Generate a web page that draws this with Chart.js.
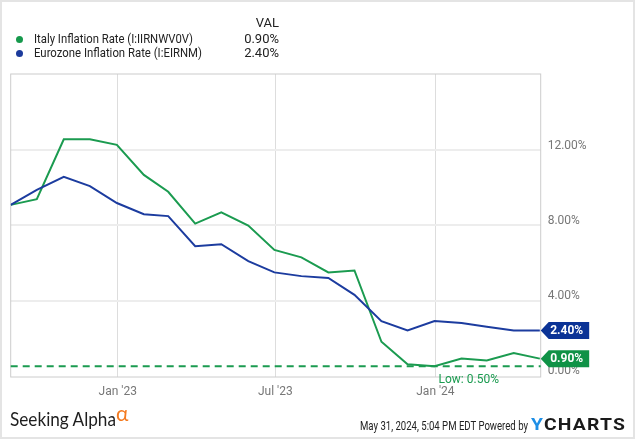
<!DOCTYPE html>
<html>
<head>
<meta charset="utf-8">
<script src="https://cdn.jsdelivr.net/npm/chart.js@4.4.1/dist/chart.umd.min.js"></script>
<style>
    html, body { margin: 0; padding: 0; background: #fff; }
    #wrap { position: relative; width: 635px; height: 439px; overflow: hidden; font-family: Roboto, sans-serif; }
    #frame { position: absolute; left: 0; top: 0; width: 631px; height: 435px; border: 2px solid #e4e4e4; pointer-events: none; }
    #chart { position: absolute; left: 0; top: 0; }
    .txt { position: absolute; white-space: nowrap; color: #222; transform-origin: left top; }
    .dot { position: absolute; width: 7px; height: 7px; border-radius: 50%; }
    .leg { font-size: 13px; line-height: 14px; }
    .val { font-size: 13px; line-height: 14px; text-align: right; width: 60px; }
</style>
</head>
<body>
<div id="wrap">
    <canvas id="chart" width="635" height="439"></canvas>

    <div class="txt val" style="left:219px; top:16px;">VAL</div>
    <div class="dot" style="left:16px; top:36px; background:#16994c;"></div>
    <div class="txt leg" data-w="159" style="left:34px; top:32px;">Italy Inflation Rate (I:IIRNWV0V)</div>
    <div class="txt val" style="left:219px; top:32px;">0.90%</div>
    <div class="dot" style="left:16px; top:50px; background:#1c3b9c;"></div>
    <div class="txt leg" data-w="168" style="left:34px; top:46px;">Eurozone Inflation Rate (I:EIRNM)</div>
    <div class="txt val" style="left:219px; top:46px;">2.40%</div>

    <div class="txt" data-w="106" style="left:10px; top:407px; font-family:Lato, sans-serif; font-size:19px; color:#1e1e1e;">Seeking Alpha</div>
    <div class="txt" style="left:116px; top:400px; font-family:Lato, sans-serif; font-size:21px; color:#f47b20;">&alpha;</div>
    <div class="txt" data-w="168" style="left:360px; top:418px; font-size:13px; color:#222;">May 31, 2024, 5:04 PM EDT Powered by</div>
    <div class="txt" data-w="95" style="left:531px; top:415px; font-size:16px; font-weight:bold; letter-spacing:1px; color:#1a1a1a;"><span style="color:#1e8fe6;">Y</span>CHARTS</div>

    <div id="frame"></div>
</div>

<script>
// monthly readings (plotted at month end)
const months = ['2022-08', '2022-09', '2022-10', '2022-11', '2022-12',
    '2023-01', '2023-02', '2023-03', '2023-04', '2023-05', '2023-06',
    '2023-07', '2023-08', '2023-09', '2023-10', '2023-11', '2023-12',
    '2024-01', '2024-02', '2024-03', '2024-04'];
const italy = [9.1, 9.4, 12.6, 12.6, 12.3, 10.7, 9.8, 8.1, 8.7, 8.0, 6.7,
    6.3, 5.5, 5.6, 1.8, 0.6, 0.5, 0.9, 0.8, 1.2, 0.9];
const eurozone = [9.1, 9.9, 10.6, 10.1, 9.2, 8.6, 8.5, 6.9, 7.0, 6.1, 5.5,
    5.3, 5.2, 4.3, 2.9, 2.4, 2.9, 2.8, 2.6, 2.4, 2.4];

const xTickDates = ['2023-01-01', '2023-07-01', '2024-01-01'];
const xTickLabels = ["Jan '23", "Jul '23", "Jan '24"];
const yTickValues = [0, 4, 8, 12];

const GREEN = '#1b9b50';
const BLUE = '#1c3c9f';
const GREEN_TAG = '#0f9246';
const BLUE_TAG = '#0b3396';

const DAY = 86400000;
function dayOf(str) {
    const p = str.split('-').map(Number);
    return Date.UTC(p[0], p[1] - 1, p[2]) / DAY;
}
function monthEnd(str) {
    const p = str.split('-').map(Number);
    return Date.UTC(p[0], p[1], 0) / DAY;
}

// squeeze text blocks to the widths seen in the reference
document.querySelectorAll('[data-w]').forEach(el => {
    const w = el.getBoundingClientRect().width;
    const target = parseFloat(el.dataset.w);
    if (w > 0) el.style.transform = 'scaleX(' + (target / w).toFixed(3) + ')';
});

const xs = months.map(monthEnd);
const italyPts = italy.map((v, i) => ({ x: xs[i], y: v }));
const euroPts = eurozone.map((v, i) => ({ x: xs[i], y: v }));

const framePlugin = {
    id: 'frame',
    beforeDatasetsDraw(chart) {
        const a = chart.chartArea;
        const ctx = chart.ctx;
        ctx.save();
        ctx.strokeStyle = '#cccccc';
        ctx.lineWidth = 1;
        ctx.strokeRect(a.left, a.top, a.right - a.left, a.bottom - a.top);

        // low line for Italy
        const low = Math.min(...italy);
        const lowIdx = italy.indexOf(low);
        const y = chart.scales.y.getPixelForValue(low);
        ctx.strokeStyle = GREEN;
        ctx.lineWidth = 2;
        ctx.setLineDash([7, 5]);
        ctx.beginPath();
        ctx.moveTo(a.left, y);
        ctx.lineTo(a.right, y);
        ctx.stroke();
        ctx.setLineDash([]);
        ctx.fillStyle = GREEN;
        ctx.font = '12px Roboto';
        ctx.textBaseline = 'middle';
        ctx.textAlign = 'left';
        ctx.fillText('Low: ' + low.toFixed(2) + '%', chart.scales.x.getPixelForValue(xs[lowIdx]) + 4, y + 14);
        ctx.restore();
    }
};

const tagPlugin = {
    id: 'tags',
    afterDraw(chart) {
        const ctx = chart.ctx;
        const right = chart.chartArea.right;
        const tags = [
            { v: eurozone[eurozone.length - 1], c: BLUE_TAG },
            { v: italy[italy.length - 1], c: GREEN_TAG }
        ];
        tags.forEach(t => {
            const y = chart.scales.y.getPixelForValue(t.v);
            ctx.save();
            ctx.fillStyle = t.c;
            ctx.beginPath();
            ctx.moveTo(right, y);
            ctx.lineTo(right + 8, y - 8.5);
            ctx.lineTo(right + 48.5, y - 8.5);
            ctx.lineTo(right + 48.5, y + 8.5);
            ctx.lineTo(right + 8, y + 8.5);
            ctx.closePath();
            ctx.fill();
            ctx.fillStyle = '#fff';
            ctx.font = 'bold 12px Roboto';
            ctx.textBaseline = 'middle';
            ctx.textAlign = 'left';
            ctx.fillText(t.v.toFixed(2) + '%', right + 9.5, y + 0.5);
            ctx.restore();
        });
    }
};

new Chart(document.getElementById('chart'), {
    type: 'line',
    data: {
        datasets: [{
            label: 'Eurozone Inflation Rate (I:EIRNM)',
            data: euroPts,
            borderColor: BLUE,
            borderWidth: 2,
            pointRadius: 0,
            tension: 0
        }, {
            label: 'Italy Inflation Rate (I:IIRNWV0V)',
            data: italyPts,
            borderColor: GREEN,
            borderWidth: 2,
            pointRadius: 0,
            tension: 0
        }]
    },
    options: {
        responsive: false,
        animation: false,
        layout: { padding: { left: 10.7, top: 74, right: 0, bottom: 0 } },
        plugins: { legend: { display: false }, tooltip: { enabled: false } },
        scales: {
            x: {
                type: 'linear',
                min: xs[0],
                max: xs[xs.length - 1] + 1,
                afterBuildTicks: s => { s.ticks = xTickDates.map(d => ({ value: dayOf(d) })); },
                afterFit: s => { s.height = 62; },
                ticks: {
                    callback: (v, i) => xTickLabels[i],
                    color: '#777',
                    font: { family: 'Roboto', size: 12 },
                    padding: 8,
                    maxRotation: 0,
                    autoSkip: false
                },
                grid: { color: '#dddddd', lineWidth: 1, drawTicks: false },
                border: { display: false }
            },
            y: {
                position: 'right',
                min: -0.08,
                max: 16.08,
                afterBuildTicks: s => { s.ticks = yTickValues.map(v => ({ value: v })); },
                afterFit: s => { s.width = 94.3; },
                ticks: {
                    callback: v => v.toFixed(2) + '%',
                    color: '#777',
                    font: { family: 'Roboto', size: 12 },
                    padding: 7,
                    labelOffset: -5
                },
                grid: {
                    color: c => c.tick && c.tick.value === 0 ? 'rgba(0,0,0,0)' : '#ededed',
                    lineWidth: 2,
                    drawTicks: false
                },
                border: { display: false }
            }
        }
    },
    plugins: [framePlugin, tagPlugin]
});
</script>
</body>
</html>
